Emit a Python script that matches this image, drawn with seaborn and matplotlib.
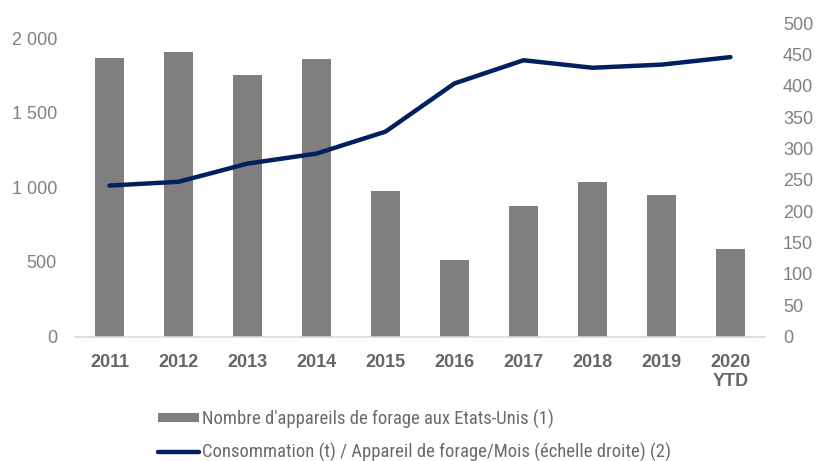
import numpy as np
import pandas as pd
import matplotlib
matplotlib.use("Agg")
import matplotlib.pyplot as plt
from matplotlib.ticker import FuncFormatter, MultipleLocator
from matplotlib.lines import Line2D
from matplotlib.patches import Patch
import seaborn as sns

years = ["2011", "2012", "2013", "2014", "2015", "2016", "2017", "2018", "2019", "2020\nYTD"]
rigs = [1867, 1907, 1751, 1858, 978, 513, 873, 1033, 947, 587]
consumption = [241, 247, 276, 292, 327, 404, 441, 429, 434, 446]
label_rigs = "Nombre d'appareils de forage aux Etats-Unis (1)"
label_cons = "Consommation (t) / Appareil de forage/Mois (échelle droite) (2)"

sns.set_theme(style="white")
plt.rcParams['font.family'] = ['Liberation Sans', 'DejaVu Sans']
narrow = ['Liberation Sans Narrow', 'Arial Narrow', 'Roboto Condensed', 'Archivo Narrow',
          'PT Sans Narrow', 'Asap Condensed', 'Liberation Sans', 'DejaVu Sans']

bar_color = "#7f7f7f"
line_color = "#002060"
tick_color = "#808080"

df = pd.DataFrame({"year": years, "rigs": rigs, "cons": consumption})

fig = plt.figure(figsize=(8.17, 4.61), dpi=100)
ax = fig.add_axes([0.0918, 0.27, 0.8445, 0.6795])
sns.barplot(data=df, x="year", y="rigs", color=bar_color, saturation=1,
            width=0.41, ax=ax, edgecolor="none")
ax.set_ylim(0, 2100)
ax.set_xlim(-0.5, len(years) - 0.5)
ax.yaxis.set_major_locator(MultipleLocator(500))
ax.yaxis.set_major_formatter(FuncFormatter(lambda v, p: f"{int(v):,}".replace(",", " ")))
ax.set_xlabel("")
ax.set_ylabel("")

ax2 = ax.twinx()
sns.lineplot(x=np.arange(len(years)), y=df["cons"], color=line_color, linewidth=3.2,
             ax=ax2, solid_capstyle="round")
ax2.set_ylim(0, 500)
ax2.yaxis.set_major_locator(MultipleLocator(50))
ax2.set_ylabel("")
ax2.set_xlim(-0.5, len(years) - 0.5)

for a in (ax, ax2):
    for s in a.spines.values():
        s.set_visible(False)
    a.grid(False)
ax.spines["bottom"].set_visible(True)
ax.spines["bottom"].set_color("#d9d9d9")
ax.spines["bottom"].set_linewidth(1.2)

ax.tick_params(axis="y", length=0, pad=13, labelsize=13, labelcolor=tick_color)
ax2.tick_params(axis="y", length=0, pad=13, labelsize=13, labelcolor=tick_color)
ax.tick_params(axis="x", length=0, pad=12.5)
for t in ax.get_xticklabels():
    t.set_fontweight("bold")
    t.set_fontsize(13)
    t.set_color("#666666")
    t.set_horizontalalignment("center")
    t.set_linespacing(1.15)

handles = [Patch(facecolor=bar_color, edgecolor="none", label=label_rigs),
           Line2D([0], [0], color=line_color, linewidth=3.2, label=label_cons)]
leg = fig.legend(handles=handles, loc="center left", bbox_to_anchor=(0.1934, 0.0553),
                 frameon=False, ncol=1, handlelength=2.2, handleheight=0.33,
                 handletextpad=0.16, labelspacing=0.75, borderpad=0, borderaxespad=0,
                 prop={"family": narrow, "size": 13.4})
for t in leg.get_texts():
    t.set_color("#6a6a6a")

fig.savefig("out.png", dpi=100)
